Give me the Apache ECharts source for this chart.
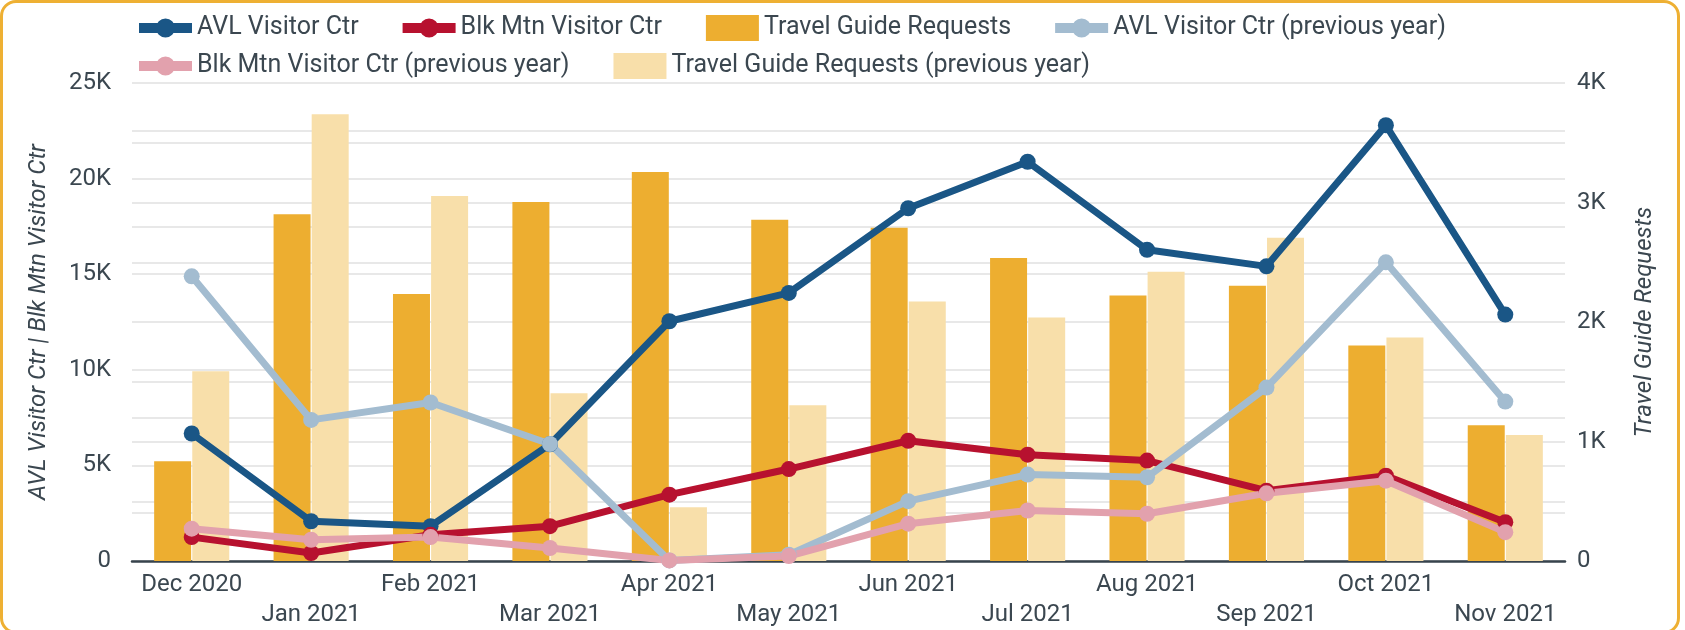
<!DOCTYPE html>
<html>
<head>
<meta charset="utf-8">
<script src="https://cdn.jsdelivr.net/npm/echarts@6/dist/echarts.min.js"></script>
<style>
    html, body { margin: 0; padding: 0; background: #fff; }
    #chart-container { width: 1685px; height: 630px; }
    #frame {
        position: absolute; left: 0; top: 0; width: 1680px; height: 634px;
        box-sizing: border-box; border: 3px solid #eeb033; border-radius: 16px;
        pointer-events: none;
    }
</style>
</head>
<body>
<div id="chart-container"></div>
<div id="frame"></div>
<script>
// 月份
var months = ['Dec 2020', 'Jan 2021', 'Feb 2021', 'Mar 2021', 'Apr 2021', 'May 2021',
    'Jun 2021', 'Jul 2021', 'Aug 2021', 'Sep 2021', 'Oct 2021', 'Nov 2021'];

// 游客中心人数（左轴）
var avlVisitors = [6670, 2080, 1820, 6100, 12540, 14020, 18450, 20880, 16280, 15410, 22790, 12890];
var blkVisitors = [1250, 420, 1370, 1820, 3470, 4810, 6290, 5560, 5250, 3680, 4460, 2030];
var avlVisitorsPrev = [14890, 7380, 8290, 6120, 30, 330, 3130, 4520, 4380, 9070, 15620, 8340];
var blkVisitorsPrev = [1690, 1110, 1250, 680, 30, 260, 1950, 2640, 2470, 3540, 4200, 1510];

// 旅游指南申请数（右轴）
var guideRequests = [834, 2902, 2235, 3005, 3255, 2855, 2788, 2535, 2221, 2304, 1804, 1137];
var guideRequestsPrev = [1587, 3739, 3055, 1404, 450, 1304, 2171, 2037, 2421, 2705, 1871, 1054];

var textColor = '#3b4750';
var gridColor = '#e8e8e8';

// 图例里的线+圆点图标
var lineIcon = 'path://M0,0L0.01,0L0,0.01Z M53,26L52.99,26L53,25.99Z M0,8L53,8L53,18L0,18Z M17,13A9.5,9.5 0 1,1 36,13A9.5,9.5 0 1,1 17,13Z';

var kFormat = function (step) {
    return function (v) {
        if (v % step !== 0) return '';
        return v === 0 ? '0' : (v / 1000) + 'K';
    };
};

var legendBase = {
    left: 134,
    itemWidth: 53,
    itemHeight: 26,
    itemGap: 44,
    textStyle: { fontSize: 25, color: textColor, fontFamily: 'Roboto' }
};

function lineSeries(name, data, color) {
    return {
        name: name,
        type: 'line',
        data: data,
        z: 3,
        symbol: 'circle',
        symbolSize: 16,
        lineStyle: { width: 7, color: color },
        itemStyle: { color: color, borderWidth: 0 }
    };
}

function barSeries(name, data, color) {
    return {
        name: name,
        type: 'bar',
        yAxisIndex: 1,
        data: data,
        z: 1,
        barWidth: 37,
        barGap: '3%',
        itemStyle: { color: color }
    };
}

var myChart = echarts.init(document.getElementById('chart-container'));

const option = {
    backgroundColor: '#fff',
    animation: false,
    textStyle: { fontFamily: 'Roboto' },
    legend: [
        Object.assign({}, legendBase, {
            top: 10,
            data: [
                { name: 'AVL Visitor Ctr', icon: lineIcon },
                { name: 'Blk Mtn Visitor Ctr', icon: lineIcon },
                { name: 'Travel Guide Requests', icon: 'rect' },
                { name: 'AVL Visitor Ctr (previous year)', icon: lineIcon }
            ]
        }),
        Object.assign({}, legendBase, {
            top: 48,
            data: [
                { name: 'Blk Mtn Visitor Ctr (previous year)', icon: lineIcon },
                { name: 'Travel Guide Requests (previous year)', icon: 'rect' }
            ]
        })
    ],
    grid: { left: 132, right: 120, top: 83, bottom: 68 },
    xAxis: {
        type: 'category',
        data: months,
        axisTick: { show: false },
        axisLine: { lineStyle: { color: '#37434c', width: 2.5 } },
        axisLabel: {
            interval: 0,
            margin: 9,
            fontSize: 24,
            lineHeight: 30,
            color: textColor,
            formatter: function (v, i) { return i % 2 ? '\n' + v : v; }
        }
    },
    yAxis: [
        {
            type: 'value',
            min: 0,
            max: 25000,
            interval: 2500,
            name: 'AVL Visitor Ctr | Blk Mtn Visitor Ctr',
            nameLocation: 'middle',
            nameRotate: 90,
            nameGap: 81,
            nameTextStyle: { fontSize: 24, fontStyle: 'italic', color: textColor },
            axisLabel: { fontSize: 24, color: textColor, margin: 21, formatter: kFormat(5000) },
            splitLine: { lineStyle: { color: gridColor, width: 2 } }
        },
        {
            type: 'value',
            min: 0,
            max: 4000,
            interval: 500,
            name: 'Travel Guide Requests',
            nameLocation: 'middle',
            nameRotate: 90,
            nameGap: 68,
            nameTextStyle: { fontSize: 24, fontStyle: 'italic', color: textColor },
            axisLabel: { fontSize: 24, color: textColor, margin: 12, formatter: kFormat(1000) },
            splitLine: { lineStyle: { color: gridColor, width: 2 } }
        }
    ],
    series: [
        lineSeries('AVL Visitor Ctr', avlVisitors, '#1a5686'),
        lineSeries('Blk Mtn Visitor Ctr', blkVisitors, '#b7112f'),
        barSeries('Travel Guide Requests', guideRequests, '#edae30'),
        lineSeries('AVL Visitor Ctr (previous year)', avlVisitorsPrev, '#a3bcd0'),
        lineSeries('Blk Mtn Visitor Ctr (previous year)', blkVisitorsPrev, '#e2a1ad'),
        barSeries('Travel Guide Requests (previous year)', guideRequestsPrev, '#f8dfaa')
    ]
};

myChart.setOption(option);
</script>
</body>
</html>
